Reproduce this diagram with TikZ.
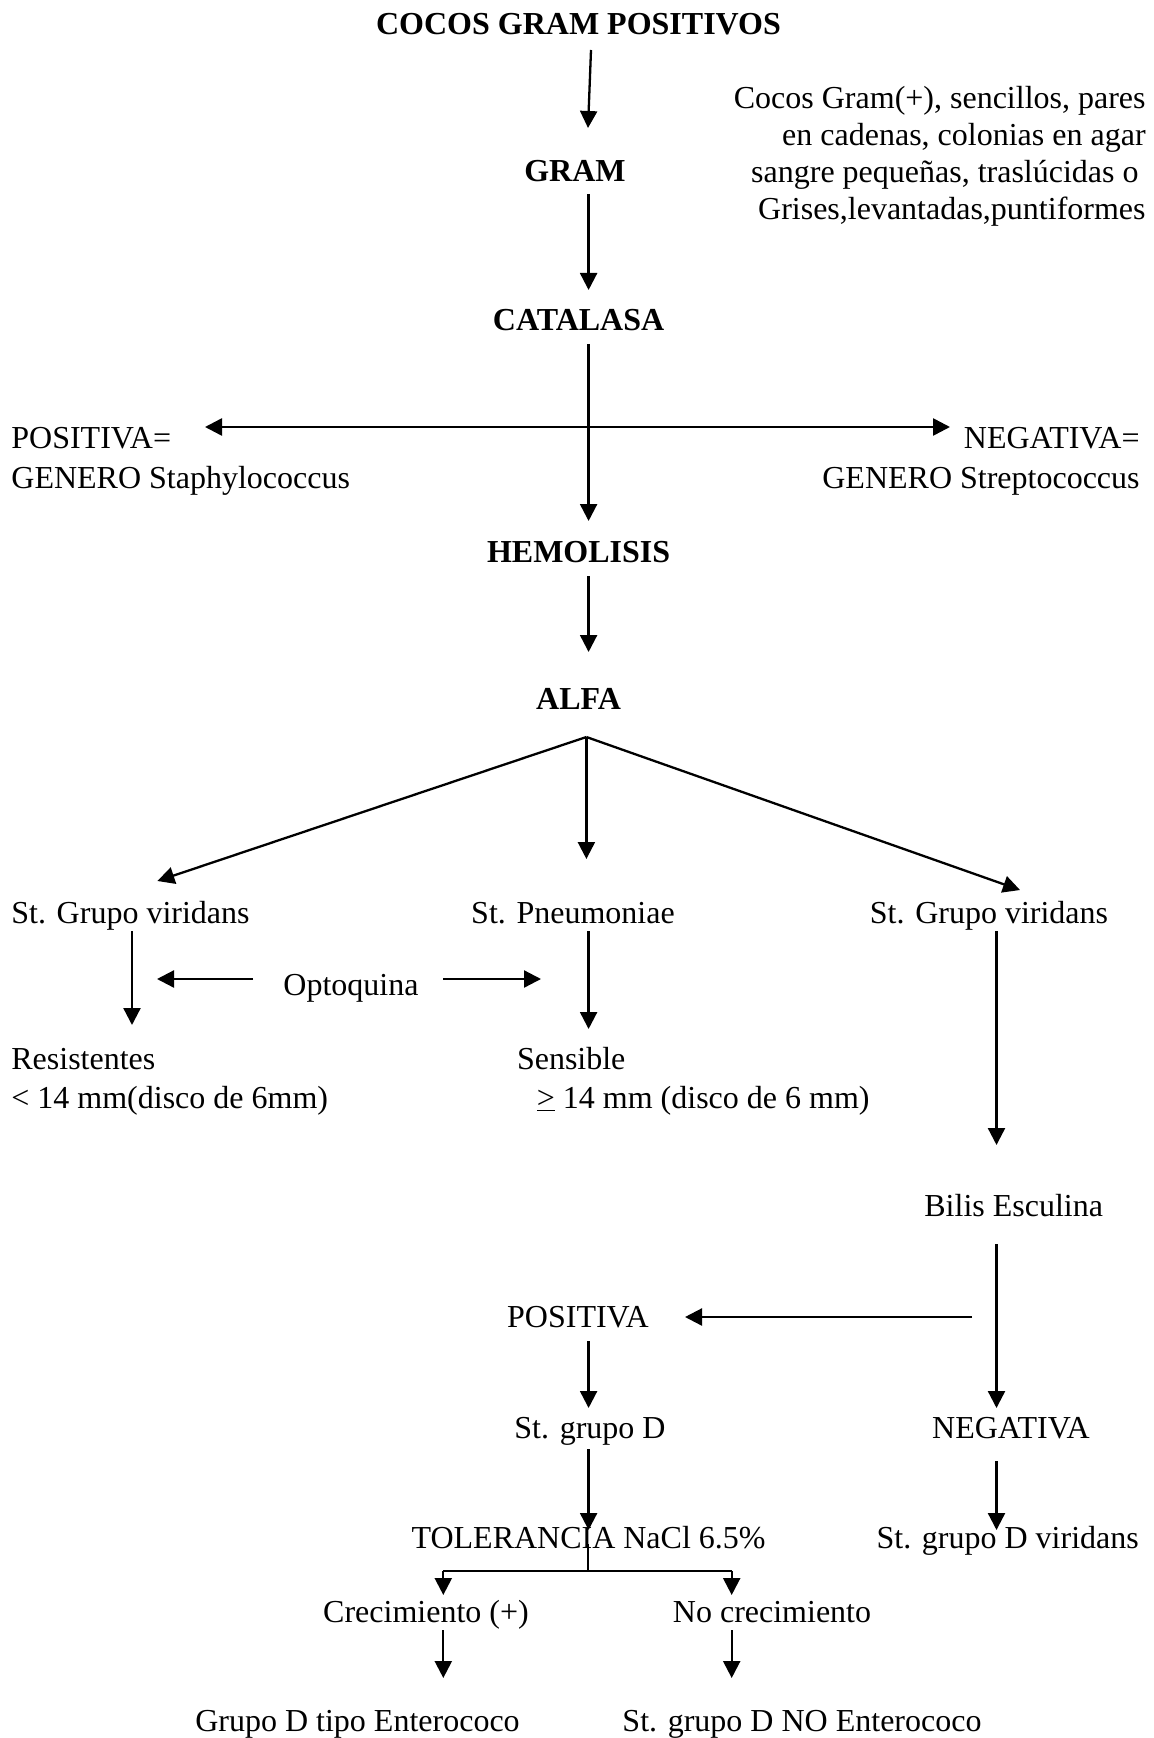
\documentclass[tikz,border=0pt]{standalone}
\usepackage{fontspec}
\setmainfont{Liberation Serif}
\usetikzlibrary{arrows.meta}
\begin{document}
\begin{tikzpicture}[x=0.5pt,y=-0.5pt,
  txt/.style={inner sep=0pt, font=\fontsize{16pt}{18pt}\selectfont},
  btxt/.style={inner sep=0pt, font=\fontsize{16pt}{18pt}\selectfont\bfseries},
  arr/.style={line width=1.15pt, -{Triangle[length=8.5pt,width=8.5pt]}},
  darr/.style={line width=1.3pt, {Triangle[length=8.5pt,width=8.5pt]}-{Triangle[length=8.5pt,width=8.5pt]}},
  ln/.style={line width=1.15pt}]
\useasboundingbox (0,0) rectangle (1154,1738);
% texts
\node[btxt, anchor=base] (title) at (578.5,35) {COCOS GRAM POSITIVOS};
\node[btxt, anchor=base] (gram) at (575,182) {GRAM};
\node[txt, anchor=base east] (d1) at (1146,108.5) {Cocos Gram(+), sencillos, pares};
\node[txt, anchor=base east] (d2) at (1146,145.5) {en cadenas, colonias en agar};
\node[txt, anchor=base east] (d3) at (1139,182.5) {sangre pequeñas, traslúcidas o};
\node[txt, anchor=base east] (d4) at (1146,219.5) {Grises,levantadas,puntiformes};
\node[btxt, anchor=base] (cat) at (578.6,330) {CATALASA};
\node[txt, anchor=base west] (pos1) at (11,448) {POSITIVA=};
\node[txt, anchor=base west] (pos2) at (11,488) {GENERO Staphylococcus};
\node[txt, anchor=base east] (neg1) at (1140,448) {NEGATIVA=};
\node[txt, anchor=base east] (neg2) at (1140,488) {GENERO Streptococcus};
\node[btxt, anchor=base] (hem) at (578.6,562) {HEMOLISIS};
\node[btxt, anchor=base] (alfa) at (578.6,709) {ALFA};
\node[txt, anchor=base west] (vir1) at (11,923) {St. Grupo viridans};
\node[txt, anchor=base] (pneu) at (573,923) {St. Pneumoniae};
\node[txt, anchor=base] (vir2) at (989,923) {St. Grupo viridans};
\node[txt, anchor=base] (opto) at (351,995) {Optoquina};
\node[txt, anchor=base west] (res1) at (11,1069) {Resistentes};
\node[txt, anchor=base west] (res2) at (11,1108) {< 14 mm(disco de 6mm)};
\node[txt, anchor=base west] (sen1) at (516.6,1069) {Sensible};
\node[txt, anchor=base west] (sen2) at (536.5,1108) {\underline{>} 14 mm (disco de 6 mm)};
\node[txt, anchor=base] (bilis) at (1013.7,1216) {Bilis Esculina};
\node[txt, anchor=base] (posb) at (578,1327) {POSITIVA};
\node[txt, anchor=base] (grd) at (590,1438) {St. grupo D};
\node[txt, anchor=base] (negb) at (1011,1438) {NEGATIVA};
\node[txt, anchor=base] (tol) at (588.6,1548) {TOLERANCIA NaCl 6.5\%};
\node[txt, anchor=base] (grdv) at (1007.7,1548) {St. grupo D viridans};
\node[txt, anchor=base] (crec) at (426,1622) {Crecimiento (+)};
\node[txt, anchor=base] (nocrec) at (772,1622) {No crecimiento};
\node[txt, anchor=base] (ent) at (357.5,1731) {Grupo D tipo Enterococo};
\node[txt, anchor=base] (noent) at (802,1731) {St. grupo D NO Enterococo};
% connector end points
\coordinate (a1s) at (591,50);     \coordinate (a1e) at (588,128);
\coordinate (a2s) at (588.6,194);  \coordinate (a2e) at (588.6,290);
\coordinate (a3s) at (588.6,344);  \coordinate (a3e) at (588.6,521);
\coordinate (hl) at (205,427);     \coordinate (hr) at (950,427);
\coordinate (a4s) at (588.6,576);  \coordinate (a4e) at (588.6,652);
\coordinate (apex) at (586.4,737);
\coordinate (bl) at (157.4,881);   \coordinate (bc) at (586.4,859);  \coordinate (br) at (1020,890);
\coordinate (a5s) at (132,931);    \coordinate (a5e) at (132,1025);
\coordinate (o1s) at (253,979);    \coordinate (o1e) at (157,979);
\coordinate (o2s) at (443,979);    \coordinate (o2e) at (541,979);
\coordinate (a6s) at (588.6,931);  \coordinate (a6e) at (588.6,1029);
\coordinate (a7s) at (996.5,931);  \coordinate (a7e) at (996.5,1145);
\coordinate (a8s) at (996.5,1244); \coordinate (a8e) at (996.5,1408);
\coordinate (a9s) at (972,1317);   \coordinate (a9e) at (685,1317);
\coordinate (a10s) at (588.6,1341); \coordinate (a10e) at (588.6,1408);
\coordinate (a11s) at (588.6,1449); \coordinate (a11e) at (588.6,1530);
\coordinate (a12s) at (996.5,1461); \coordinate (a12e) at (996.5,1530);
\coordinate (ts) at (588.3,1544);  \coordinate (tm) at (588.3,1571);
\coordinate (tl) at (443.3,1571);  \coordinate (tr) at (731.7,1571);
\coordinate (tle) at (443.3,1595); \coordinate (tre) at (731.7,1595);
\coordinate (c1s) at (443.3,1630); \coordinate (c1e) at (443.3,1678);
\coordinate (c2s) at (731.7,1630); \coordinate (c2e) at (731.7,1678);
% connectors
\draw[arr] (a1s) -- (a1e);
\draw[arr] (a2s) -- (a2e);
\draw[arr] (a3s) -- (a3e);
\draw[darr] (hl) -- (hr);
\draw[arr] (a4s) -- (a4e);
\draw[arr] (apex) -- (bl);
\draw[arr] (apex) -- (bc);
\draw[arr] (apex) -- (br);
\draw[arr] (a5s) -- (a5e);
\draw[arr] (o1s) -- (o1e);
\draw[arr] (o2s) -- (o2e);
\draw[arr] (a6s) -- (a6e);
\draw[arr] (a7s) -- (a7e);
\draw[arr] (a8s) -- (a8e);
\draw[arr] (a9s) -- (a9e);
\draw[arr] (a10s) -- (a10e);
\draw[arr] (a11s) -- (a11e);
\draw[arr] (a12s) -- (a12e);
\draw[ln] (ts) -- (tm);
\draw[ln] (tl) -- (tr);
\draw[arr] (tl) -- (tle);
\draw[arr] (tr) -- (tre);
\draw[arr] (c1s) -- (c1e);
\draw[arr] (c2s) -- (c2e);
\end{tikzpicture}
\end{document}
